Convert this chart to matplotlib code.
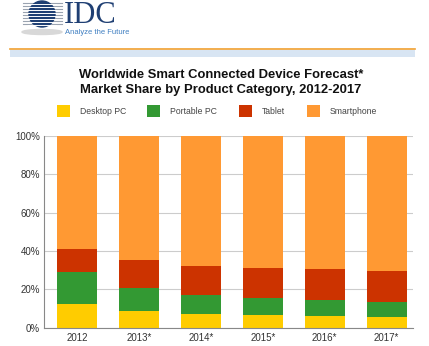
import matplotlib.pyplot as plt
from matplotlib.patches import Circle, Rectangle, Ellipse

years = ["2012", "2013*", "2014*", "2015*", "2016*", "2017*"]
desktop = [12.5, 8.9, 7.3, 6.5, 5.9, 5.4]
portable = [16.5, 11.6, 9.7, 9.0, 8.4, 7.8]
tablet = [11.8, 14.6, 15.3, 15.8, 16.1, 16.5]
smartphone = [100 - d - p - t for d, p, t in zip(desktop, portable, tablet)]

series = ["Desktop PC", "Portable PC", "Tablet", "Smartphone"]
colors = ["#FFCC00", "#339933", "#CC3300", "#FF9933"]

W, H = 429, 346
fig = plt.figure(figsize=(W / 100, H / 100), dpi=100)
plt.rcParams['font.family'] = ['Liberation Sans', 'DejaVu Sans']

# overlay in pixel coordinates for header, title, legend
ov = fig.add_axes([0, 0, 1, 1])
ov.set_xlim(0, W)
ov.set_ylim(H, 0)
ov.axis("off")

# logo
ov.add_patch(Ellipse((42, 32), 40, 5, color="#d8d8d8", zorder=1))
for yy in range(3, 27, 3):
    ov.plot([23, 62], [yy, yy], color="#9aa3b0", lw=0.8, zorder=1)
ov.add_patch(Circle((42, 14), 13, color="#1f3f73", zorder=2))
for yy in range(4, 26, 3):
    ov.plot([28, 56], [yy, yy], color="white", lw=0.7, zorder=3)
ov.text(64, 23, "IDC", fontsize=22, family="Liberation Serif", color="#1f3f73",
        va="baseline", ha="left")
ov.text(65, 32, "Analyze the Future", fontsize=5.5, color="#3f7fc1", va="center", ha="left")

# header band
ov.plot([10, 415], [49, 49], color="#F0A030", lw=1.2)
ov.add_patch(Rectangle((10, 50), 405, 7, color="#d8e5f3", lw=0))

ov.text(221, 75, "Worldwide Smart Connected Device Forecast*", fontsize=9.4,
        fontweight="bold", ha="center", va="center", color="#111111")
ov.text(221, 90, "Market Share by Product Category, 2012-2017", fontsize=9.4,
        fontweight="bold", ha="center", va="center", color="#111111")

legend_sq = [57, 147, 239, 307]
legend_tx = [80, 170, 262, 330]
for name, c, sx, tx in zip(series, colors, legend_sq, legend_tx):
    ov.add_patch(Rectangle((sx, 105), 13, 12, color=c, lw=0))
    ov.text(tx, 111, name, fontsize=6.2, color="#444444", va="center", ha="left")

# chart
ax = fig.add_axes([44.3 / W, (H - 327.7) / H, (413 - 44.3) / W, (327.7 - 136) / H])
x = list(range(len(years)))
bottom = [0] * len(years)
for name, vals, c in zip(series, [desktop, portable, tablet, smartphone], colors):
    ax.bar(x, vals, bottom=bottom, width=0.646, color=c, zorder=2, lw=0)
    bottom = [b + v for b, v in zip(bottom, vals)]

ax.set_xlim(-0.53, 5.425)
ax.set_ylim(0, 100)
ax.set_yticks([0, 20, 40, 60, 80, 100])
ax.set_yticklabels(["0%", "20%", "40%", "60%", "80%", "100%"])
ax.set_xticks(x)
ax.set_xticklabels(years)
ax.tick_params(length=0, labelsize=7, colors="#333333", pad=4)
ax.tick_params(axis="y", pad=3)
ax.grid(axis="y", color="#cccccc", lw=0.8, zorder=0)
for s in ["top", "right"]:
    ax.spines[s].set_visible(False)
ax.spines["left"].set_color("#888888")
ax.spines["bottom"].set_color("#888888")

fig.savefig("out.png", dpi=100)
